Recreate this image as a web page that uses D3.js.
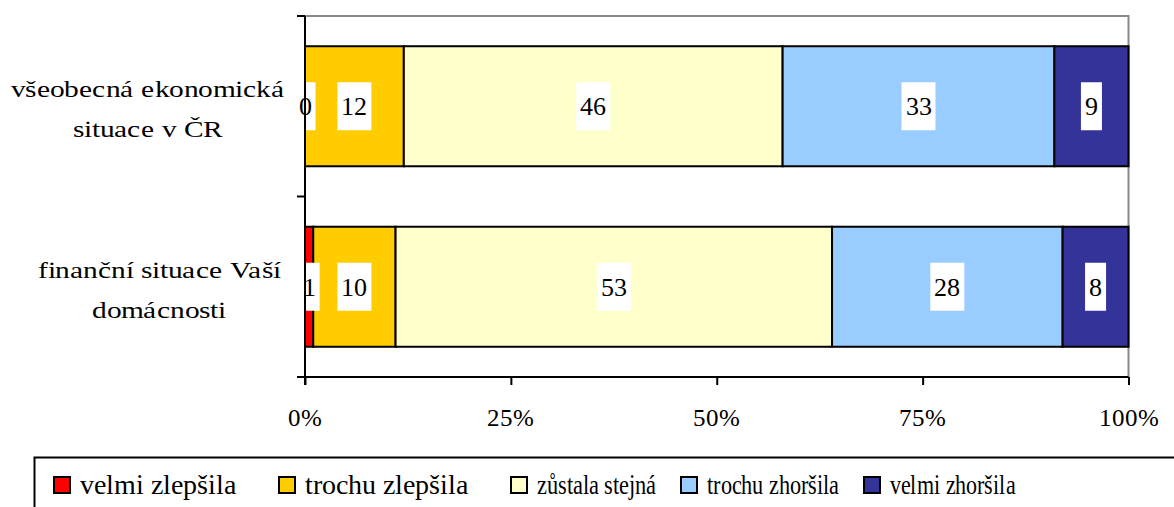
<!DOCTYPE html>
<html>
<head>
<meta charset="utf-8">
<script src="https://cdn.jsdelivr.net/npm/d3@7"></script>
<style>
  @font-face { font-family: 'ChartSerif'; src: local('Liberation Serif'), local('LiberationSerif'), local('Times New Roman'); }
  body { margin: 0; background: #fff; }
  svg text { font-family: 'ChartSerif', 'Liberation Serif', 'Times New Roman', serif !important; }
</style>
</head>
<body>
<div id="chart"></div>
<script>
// categories (two lines each) and series
const categories = ['všeobecná ekonomická situace v ČR', 'finanční situace Vaší domácnosti'];
const categoryLines = [['všeobecná ekonomická', 'situace v ČR'], ['finanční situace Vaší', 'domácnosti']];
const seriesNames = ['velmi zlepšila', 'trochu zlepšila', 'zůstala stejná', 'trochu zhoršila', 'velmi zhoršila'];
const seriesColors = ['#ff0000', '#ffcc00', '#ffffcc', '#99ccff', '#333399'];
const economyValues = [0, 12, 46, 33, 9];
const householdValues = [1, 10, 53, 28, 8];
const tickValues = [0, 25, 50, 75, 100];

const FONT = 'Liberation Serif';
const W = 1174, H = 507;
const svg = d3.select('#chart').append('svg').attr('width', W).attr('height', H);

const x = d3.scaleLinear().domain([0, 100]).range([305, 1128.5]);
const y = d3.scaleBand().domain(categories).range([16, 377]).paddingInner(0.335).paddingOuter(0.1675);

const rows = [economyValues, householdValues].map((vals, i) => {
  let acc = 0;
  return vals.map((v, j) => {
    const seg = { cat: categories[i], s: j, v: v, x0: acc, x1: acc + v };
    acc += v;
    return seg;
  });
});

// plot frame (gray top/right)
svg.append('path')
  .attr('d', `M${x(0)},16H${x(100)}V${y.range()[1]}`)
  .attr('fill', 'none').attr('stroke', '#888').attr('stroke-width', 2);

// bars
const segs = rows.flat();
svg.append('g').selectAll('rect').data(segs).join('rect')
  .attr('x', d => x(d.x0))
  .attr('y', d => y(d.cat))
  .attr('width', d => x(d.x1) - x(d.x0))
  .attr('height', y.bandwidth())
  .attr('fill', d => seriesColors[d.s])
  .attr('stroke', '#000').attr('stroke-width', 2);

// data labels with white boxes
const labRects = svg.append('g');
segs.forEach(d => {
  const cx = (x(d.x0) + x(d.x1)) / 2, cy = y(d.cat) + y.bandwidth() / 2;
  const r = labRects.append('rect').attr('fill', '#fff');
  const t = svg.append('text').attr('x', cx).attr('y', cy + 9)
    .attr('font-family', FONT).attr('font-size', 26)
    .attr('text-anchor', 'middle').attr('fill', '#000').text(d.v);
  const w = t.node().getComputedTextLength();
  r.attr('x', cx - w / 2 - 4).attr('y', cy - 24).attr('width', w + 8).attr('height', 48);
});

// x axis (ticks and line from d3, labels drawn separately)
const xAxis = svg.append('g').attr('transform', `translate(0,${y.range()[1]})`)
  .call(d3.axisBottom(x).tickValues(tickValues).tickSize(8).tickFormat(''));
xAxis.select('.domain').attr('stroke', '#000').attr('stroke-width', 2).attr('d', `M${x(0)},0H${x(100)}`);
xAxis.selectAll('.tick line').attr('stroke', '#000').attr('stroke-width', 2);
tickValues.forEach(v => {
  svg.append('text').attr('x', x(v)).attr('y', y.range()[1] + 49)
    .attr('font-family', FONT).attr('font-size', 25)
    .attr('text-anchor', 'middle').attr('fill', '#000').text(v + '%');
});

// y axis line + ticks at band boundaries
svg.append('line').attr('x1', x(0)).attr('x2', x(0)).attr('y1', 16).attr('y2', y.range()[1] + 8)
  .attr('stroke', '#000').attr('stroke-width', 2);
const bounds = [16, (16 + y.range()[1]) / 2, y.range()[1]];
svg.append('g').selectAll('line').data(bounds).join('line')
  .attr('x1', x(0) - 8).attr('x2', x(0)).attr('y1', d => d).attr('y2', d => d)
  .attr('stroke', '#000').attr('stroke-width', 2);

// category labels (text in the source is drawn wide)
const catCenters = [147.5, 159];
const catStretch = 1.28;
categories.forEach((c, i) => {
  const mid = y(c) + y.bandwidth() / 2;
  categoryLines[i].forEach((line, k) => {
    svg.append('text')
      .attr('transform', `translate(${catCenters[i]},${mid - 9 + k * 40}) scale(${catStretch},1)`)
      .attr('font-family', FONT).attr('font-size', 23)
      .attr('text-anchor', 'middle').attr('fill', '#000')
      .text(line);
  });
});

// legend: keep each entry inside its slot so texts never run into the next box
const legendX = [53, 278, 510, 680, 863];
const legendEnd = 1015;
svg.append('rect').attr('x', 34.5).attr('y', 457.5).attr('width', 1200).attr('height', 100)
  .attr('fill', '#fff').attr('stroke', '#000').attr('stroke-width', 2);
seriesNames.forEach((name, i) => {
  svg.append('rect').attr('x', legendX[i] + 1).attr('y', 477).attr('width', 16).attr('height', 16)
    .attr('fill', seriesColors[i]).attr('stroke', '#000').attr('stroke-width', 2);
  const t = svg.append('text').attr('x', legendX[i] + 27).attr('y', 494)
    .attr('font-family', FONT).attr('font-size', 28)
    .attr('fill', '#000').text(name);
  const next = i < legendX.length - 1 ? legendX[i + 1] - 24 : legendEnd;
  const maxW = next - (legendX[i] + 27);
  if (t.node().getComputedTextLength() > maxW) {
    t.attr('textLength', maxW).attr('lengthAdjust', 'spacingAndGlyphs');
  }
});
</script>
</body>
</html>
